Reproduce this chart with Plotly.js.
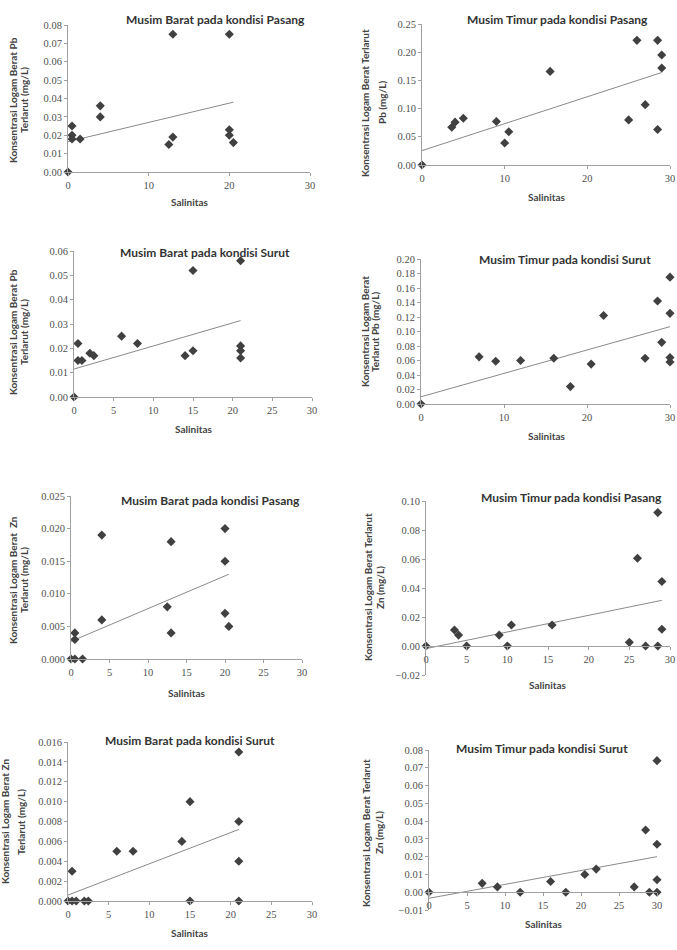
<!DOCTYPE html>
<html>
<head>
<meta charset="utf-8">
<script src="https://cdn.plot.ly/plotly-3.0.1.min.js"></script>
<style>html,body{margin:0;padding:0;background:#fff;}#chart{width:677px;height:950px;}</style>
</head>
<body>
<div id="chart"></div>
<script>
// ---- Panel 1: Musim Barat, Pasang, Pb ----
const p1Salinitas = [0, 0.5, 0.5, 0.5, 1.5, 4, 4, 13, 12.5, 13, 20, 20, 20, 20.5];
const p1Pb = [0, 0.025, 0.020, 0.018, 0.018, 0.036, 0.030, 0.075, 0.015, 0.019, 0.075, 0.023, 0.020, 0.016];
const p1TrendX = [0, 20.5];
const p1TrendY = [0.0165, 0.038];

// ---- Panel 2: Musim Timur, Pasang, Pb ----
const p2Salinitas = [0, 3.6, 4, 5, 9, 10, 10.5, 15.5, 25, 26, 27, 28.5, 28.5, 29, 29];
const p2Pb = [0, 0.067, 0.076, 0.083, 0.077, 0.039, 0.059, 0.166, 0.080, 0.221, 0.107, 0.221, 0.063, 0.195, 0.172];
const p2TrendX = [0, 29];
const p2TrendY = [0.0255, 0.164];

// ---- Panel 3: Musim Barat, Surut, Pb ----
const p3Salinitas = [0, 0.5, 0.5, 1, 2, 2.5, 6, 8, 14, 15, 15, 21, 21, 21, 21];
const p3Pb = [0, 0.022, 0.015, 0.015, 0.018, 0.017, 0.025, 0.022, 0.017, 0.052, 0.019, 0.056, 0.021, 0.019, 0.016];
const p3TrendX = [0, 21];
const p3TrendY = [0.0115, 0.0314];

// ---- Panel 4: Musim Timur, Surut, Pb ----
const p4Salinitas = [0, 7, 9, 12, 16, 18, 20.5, 22, 27, 28.5, 29, 30, 30, 30, 30];
const p4Pb = [0, 0.065, 0.059, 0.060, 0.063, 0.024, 0.055, 0.122, 0.063, 0.142, 0.085, 0.175, 0.125, 0.064, 0.058];
const p4TrendX = [0, 30];
const p4TrendY = [0.010, 0.1067];

// ---- Panel 5: Musim Barat, Pasang, Zn ----
const p5Salinitas = [0, 0.5, 0.5, 0.5, 1.5, 4, 4, 12.5, 13, 13, 20, 20, 20, 20.5];
const p5Zn = [0, 0.004, 0.003, 0, 0, 0.019, 0.006, 0.008, 0.018, 0.004, 0.020, 0.015, 0.007, 0.005];
const p5TrendX = [0, 20.5];
const p5TrendY = [0.0027, 0.013];

// ---- Panel 6: Musim Timur, Pasang, Zn ----
const p6Salinitas = [0, 3.5, 4, 5, 9, 10, 10.5, 15.5, 25, 26, 27, 28.5, 28.5, 29, 29];
const p6Zn = [0, 0.011, 0.0075, 0, 0.0075, 0, 0.0145, 0.0145, 0.0025, 0.0605, 0, 0.092, 0, 0.0445, 0.0115];
const p6TrendX = [0, 29];
const p6TrendY = [-0.0018, 0.0315];

// ---- Panel 7: Musim Barat, Surut, Zn ----
const p7Salinitas = [0, 0.5, 0.5, 1, 2, 2.5, 6, 8, 14, 15, 15, 21, 21, 21, 21];
const p7Zn = [0, 0.003, 0, 0, 0, 0, 0.005, 0.005, 0.006, 0.010, 0, 0.015, 0.008, 0.004, 0];
const p7TrendX = [0, 21];
const p7TrendY = [0.0006, 0.0072];

// ---- Panel 8: Musim Timur, Surut, Zn ----
const p8Salinitas = [0, 7, 9, 12, 16, 18, 20.5, 22, 27, 28.5, 29, 30, 30, 30, 30];
const p8Zn = [0, 0.005, 0.003, 0, 0.006, 0, 0.010, 0.013, 0.003, 0.035, 0, 0.074, 0.027, 0.007, 0];
const p8TrendX = [0, 30];
const p8TrendY = [-0.0034, 0.020];

// ---- Texts ----
const panelTitles = [
  "Musim Barat pada kondisi Pasang", "Musim Timur pada kondisi Pasang",
  "Musim Barat pada kondisi Surut", "Musim Timur pada kondisi Surut",
  "Musim Barat pada kondisi Pasang", "Musim Timur pada kondisi Pasang",
  "Musim Barat pada kondisi Surut", "Musim Timur pada kondisi Surut"
];
const yTitleLine1 = [
  "Konsentrasi Logam Berat Pb", "Konsentrasi Logam Berat Terlarut",
  "Konsentrasi Logam Berat Pb", "Konsentrasi Logam Berat",
  "Konsentrasi Logam Berat  Zn", "Konsentrasi Logam Berat Terlarut",
  "Konsentrasi Logam Berat Zn", "Konsentrasi Logam Berat Terlarut"
];
const yTitleLine2 = [
  "Terlarut (mg/L)", "Pb (mg/L)",
  "Terlarut (mg/L)", "Terlarut Pb (mg/L)",
  "Terlarut (mg/L)", "Zn (mg/L)",
  "Terlarut (mg/L)", "Zn (mg/L)"
];
const xTitle = "Salinitas";

// ---- Scales ----
const yRanges = [[0,0.08],[0,0.25],[0,0.06],[0,0.2],[0,0.025],[-0.02,0.1],[0,0.016],[-0.01,0.08]];
const yDticks = [0.01, 0.05, 0.01, 0.02, 0.005, 0.02, 0.002, 0.01];
const yFormats = [".2f", ".2f", ".2f", ".2f", ".3f", ".2f", ".3f", ".2f"];
const xDticks = [10, 10, 5, 10, 5, 5, 5, 5];

// ---- Layout geometry (pixels) ----
const W = 677, H = 950;
const boxes = [
  {l:68, r:310, t:25, b:172},
  {l:422, r:670, t:24, b:165},
  {l:74, r:312, t:251, b:397},
  {l:421, r:670, t:259, b:404},
  {l:71, r:302, t:496, b:659},
  {l:426, r:670, t:501, b:675, xaxisAt:646},
  {l:68, r:312, t:742, b:901},
  {l:429, r:657, t:750, b:910, xaxisAt:892}
];
const titlePos = [[215,20],[557,20],[205,252],[565,259],[210,500],[571,497],[190,740],[542,748]];
const xTitlePos = [[189,202],[546,197],[193,429],[546,436],[186,693],[547,685],[189,933],[543,924]];
const yTitlePos = [[13,24,100],[365,382,103],[13,24,332],[365,375,332],[13,24,580],[368,380,587],[5,21,822],[366,379,833]];

const xs = [p1Salinitas,p2Salinitas,p3Salinitas,p4Salinitas,p5Salinitas,p6Salinitas,p7Salinitas,p8Salinitas];
const ys = [p1Pb,p2Pb,p3Pb,p4Pb,p5Zn,p6Zn,p7Zn,p8Zn];
const txs = [p1TrendX,p2TrendX,p3TrendX,p4TrendX,p5TrendX,p6TrendX,p7TrendX,p8TrendX];
const tys = [p1TrendY,p2TrendY,p3TrendY,p4TrendY,p5TrendY,p6TrendY,p7TrendY,p8TrendY];

const traces = [];
const layout = {
  width: W, height: H,
  margin: {l:0, r:0, t:0, b:0},
  paper_bgcolor: "#fff", plot_bgcolor: "rgba(0,0,0,0)",
  showlegend: false,
  annotations: []
};
const tickFont = {family: "Liberation Serif, serif", size: 10.5, color: "#505050"};
const labelFont = {family: "Lato, sans-serif", size: 10, color: "#444", weight: "bold"};

for (let i = 0; i < 8; i++) {
  const n = i === 0 ? "" : String(i + 1);
  const b = boxes[i];
  traces.push({
    x: txs[i], y: tys[i], xaxis: "x" + n, yaxis: "y" + n,
    mode: "lines", type: "scatter",
    line: {color: "#8a8a8a", width: 1}, hoverinfo: "skip", cliponaxis: false
  });
  traces.push({
    x: xs[i], y: ys[i], xaxis: "x" + n, yaxis: "y" + n,
    mode: "markers", type: "scatter", cliponaxis: false,
    marker: {symbol: "diamond", size: 7, color: "#404040"}
  });
  const xa = {
    domain: [b.l / W, b.r / W], range: [0, 30], dtick: xDticks[i], tick0: 0,
    showline: true, linecolor: "#a0a0a0", linewidth: 1,
    ticks: "outside", ticklen: 3, tickcolor: "#a0a0a0",
    showgrid: false, zeroline: false, tickfont: tickFont, fixedrange: true
  };
  if (b.xaxisAt !== undefined) {
    xa.anchor = "free";
    xa.position = 1 - b.xaxisAt / H;
  } else {
    xa.anchor = "y" + n;
  }
  layout["xaxis" + n] = xa;
  layout["yaxis" + n] = {
    domain: [1 - b.b / H, 1 - b.t / H], range: yRanges[i], dtick: yDticks[i], tick0: 0,
    anchor: "x" + n, tickformat: yFormats[i],
    showline: true, linecolor: "#a0a0a0", linewidth: 1,
    ticks: "outside", ticklen: 3, tickcolor: "#a0a0a0",
    showgrid: false, zeroline: false, tickfont: tickFont, fixedrange: true
  };
  layout.annotations.push({
    text: panelTitles[i], xref: "paper", yref: "paper",
    x: titlePos[i][0] / W, y: 1 - titlePos[i][1] / H,
    xanchor: "center", yanchor: "middle", showarrow: false,
    font: {family: "Lato, sans-serif", size: 12, color: "#333", weight: "bold"}
  });
  layout.annotations.push({
    text: xTitle, xref: "paper", yref: "paper",
    x: xTitlePos[i][0] / W, y: 1 - xTitlePos[i][1] / H,
    xanchor: "center", yanchor: "middle", showarrow: false, font: labelFont
  });
  layout.annotations.push({
    text: yTitleLine1[i], xref: "paper", yref: "paper", textangle: -90,
    x: yTitlePos[i][0] / W, y: 1 - yTitlePos[i][2] / H,
    xanchor: "center", yanchor: "middle", showarrow: false, font: labelFont
  });
  layout.annotations.push({
    text: yTitleLine2[i], xref: "paper", yref: "paper", textangle: -90,
    x: yTitlePos[i][1] / W, y: 1 - yTitlePos[i][2] / H,
    xanchor: "center", yanchor: "middle", showarrow: false, font: labelFont
  });
}

Plotly.newPlot("chart", traces, layout, {staticPlot: true, displayModeBar: false});
</script>
</body>
</html>
